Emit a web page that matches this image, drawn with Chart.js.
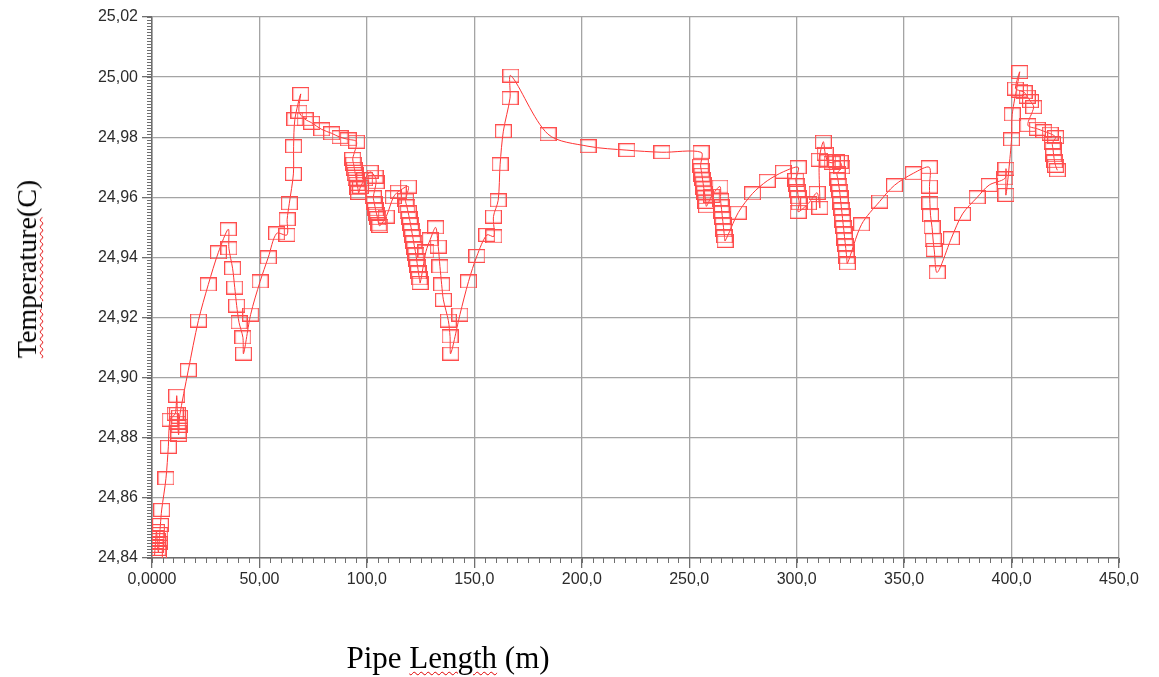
<!DOCTYPE html>
<html>
<head>
<meta charset="utf-8">
<script src="https://cdn.jsdelivr.net/npm/chart.js@4.4.1/dist/chart.umd.min.js"></script>
<style>
body{margin:0;background:#fff;}
#wrap{position:relative;width:1159px;height:677px;}
.ttl{position:absolute;font-family:'Liberation Serif','Times New Roman',serif;font-size:28px;color:#000;white-space:nowrap;}
.sq{text-decoration:underline wavy #e00000;text-decoration-thickness:1px;text-underline-offset:3px;}
#ytitle{left:27px;top:269px;transform:translate(-50%,-50%) rotate(-90deg);}
#xtitle{left:448px;top:658px;font-size:31px;transform:translate(-50%,-50%);}
</style>
</head>
<body>
<div id="wrap">
<canvas id="myChart" width="1159" height="677"></canvas>
<div class="ttl" id="ytitle"><span class="sq">Temperature</span>(C)</div>
<div class="ttl" id="xtitle">Pipe <span class="sq">Length</span> (m)</div>
</div>
<script>
// values, in the order the curve runs through them
const pipeLength = [
	1.2, 1.5, 1.8, 2.1, 2.4, 2.7, 3.0, 3.3, 3.6, 3.9, 4.5, 6.5, 7.6, 8.4, 10.8, 11.5,
	11.8, 12.0, 12.2, 12.4, 12.6, 12.8, 16.9, 21.6, 26.2, 30.9, 35.5, 35.8, 37.5, 38.5,
	39.4, 40.5, 42.3, 42.6, 45.9, 50.3, 54.1, 58.0, 62.8, 62.9, 63.9, 65.8, 65.9, 66.5,
	69.2, 68.4, 71.2, 74.3, 79.0, 83.6, 87.5, 91.3, 95.2, 93.4, 93.8, 94.2, 94.6, 95.0,
	95.4, 95.8, 96.2, 97.0, 99.0, 101.5, 103.8, 104.3, 103.0, 103.5, 104.0, 104.5, 105.0,
	105.5, 106.0, 109.0, 112.3, 114.6, 119.3, 118.0, 118.6, 119.2, 119.8, 120.3, 120.8,
	121.3, 121.8, 122.3, 122.8, 123.2, 123.6, 124.0, 124.4, 124.8, 127.5, 129.5, 132.0,
	133.2, 134.0, 134.8, 135.6, 137.9, 138.7, 139.0, 143.3, 147.3, 151.2, 155.8, 159.1,
	158.9, 161.1, 162.0, 163.5, 166.6, 167.0, 184.3, 202.9, 221.0, 237.3, 255.5, 255.3,
	255.6, 255.9, 256.2, 256.5, 256.8, 257.1, 257.4, 257.7, 258.0, 260.5, 264.3, 264.6,
	264.9, 265.2, 265.5, 265.8, 266.1, 266.4, 266.7, 272.8, 279.5, 286.3, 293.8, 300.7,
	299.6, 300.0, 300.4, 300.8, 301.2, 300.7, 305.5, 309.5, 310.8, 310.5, 312.4, 313.3,
	314.5, 316.5, 318.5, 320.2, 321.0, 318.8, 319.2, 319.6, 320.0, 320.3, 320.6, 320.9,
	321.2, 321.5, 321.8, 322.1, 322.4, 322.7, 323.0, 323.3, 323.6, 330.2, 338.6, 345.5,
	354.3, 361.7, 361.8, 362.0, 362.3, 363.0, 363.5, 364.0, 365.4, 372.0, 377.2, 384.0,
	389.6, 396.9, 397.4, 397.4, 400.0, 400.3, 403.8, 401.8, 403.8, 405.8, 407.3, 408.8,
	410.3, 407.6, 412.0, 415.0, 418.0, 420.5, 419.0, 419.3, 419.6, 420.0, 420.5, 421.3
];
const temperature = [
	24.841, 24.844, 24.847, 24.849, 24.846, 24.843, 24.842, 24.845, 24.848, 24.851, 24.856, 24.8665, 24.877, 24.886, 24.888, 24.894,
	24.888, 24.885, 24.882, 24.881, 24.884, 24.887, 24.9025, 24.919, 24.931, 24.9417, 24.9494, 24.943, 24.9364, 24.930,
	24.924, 24.9184, 24.9134, 24.908, 24.921, 24.932, 24.940, 24.948, 24.9475, 24.9527, 24.958, 24.9678, 24.977, 24.986,
	24.9944, 24.9885, 24.986, 24.9848, 24.9826, 24.9813, 24.980, 24.9793, 24.9785, 24.9728, 24.9712, 24.9695, 24.9678, 24.9662,
	24.9645, 24.963, 24.9615, 24.9635, 24.966, 24.9685, 24.9669, 24.965, 24.960, 24.958, 24.956, 24.9545, 24.953,
	24.951, 24.9505, 24.9536, 24.960, 24.9619, 24.9636, 24.959, 24.957, 24.955, 24.953, 24.951, 24.949,
	24.947, 24.945, 24.943, 24.941, 24.939, 24.937, 24.935, 24.933, 24.9315, 24.942, 24.946, 24.950,
	24.9436, 24.937, 24.931, 24.9259, 24.919, 24.9137, 24.908, 24.921, 24.932, 24.9405, 24.9475, 24.947,
	24.9536, 24.959, 24.971, 24.982, 24.993, 25.0005, 24.981, 24.977, 24.9757, 24.975, 24.975, 24.9705,
	24.969, 24.9675, 24.966, 24.9645, 24.963, 24.9615, 24.960, 24.9585, 24.957, 24.9605, 24.9636, 24.959,
	24.957, 24.955, 24.953, 24.951, 24.949, 24.947, 24.9455, 24.9549, 24.9613, 24.9655, 24.9685, 24.970,
	24.9658, 24.964, 24.962, 24.960, 24.958, 24.9552, 24.958, 24.9615, 24.9565, 24.9725, 24.9785, 24.9745,
	24.972, 24.9715, 24.972, 24.9718, 24.970, 24.968, 24.966, 24.964, 24.962, 24.960, 24.958, 24.956,
	24.954, 24.952, 24.950, 24.948, 24.946, 24.944, 24.942, 24.940, 24.938, 24.951, 24.9586, 24.964,
	24.968, 24.970, 24.9636, 24.958, 24.954, 24.950, 24.9458, 24.9425, 24.935, 24.9464, 24.9545, 24.960,
	24.9641, 24.9663, 24.9695, 24.9608, 24.9793, 24.9876, 25.0017, 24.9962, 24.9955, 24.995, 24.9935, 24.992,
	24.990, 24.984, 24.9828, 24.982, 24.9812, 24.980, 24.978, 24.976, 24.974, 24.972, 24.9705, 24.969
];
const xTickLabels = ['0,0000', '50,00', '100,0', '150,0', '200,0', '250,0', '300,0', '350,0', '400,0', '450,0'];
const yTickLabels = ['24,84', '24,86', '24,88', '24,90', '24,92', '24,94', '24,96', '24,98', '25,00', '25,02'];

const axisColor = '#6e6e6e';
const gridColor = '#a4a4a4';

function isMajorX(v){ return Math.round(v) % 50 === 0; }
function isMajorY(v){ return (Math.round(v * 1000) - 24840) % 20 === 0; }

// open square marker, a bit wider than tall like the original
let marker = document.createElement('canvas');
marker.width = 17;
marker.height = 14;
let mctx = marker.getContext('2d');
mctx.strokeStyle = '#ff4d4d';
mctx.lineWidth = 1.2;
mctx.strokeRect(0.6, 0.6, 15.8, 12.8);

// short ticks for every minor step
const minorTicks = {
	id: 'minorTicks',
	afterDraw(chart){
		let ctx = chart.ctx, xs = chart.scales.x, ys = chart.scales.y;
		ctx.save();
		ctx.strokeStyle = axisColor;
		ctx.lineWidth = 1;
		ctx.beginPath();
		xs.ticks.forEach(t => {
			let px = Math.round(xs.getPixelForValue(t.value)) + 0.5;
			ctx.moveTo(px, xs.top);
			ctx.lineTo(px, xs.top + 5);
		});
		ys.ticks.forEach(t => {
			let py = Math.round(ys.getPixelForValue(t.value)) + 0.5;
			ctx.moveTo(ys.right - 5, py);
			ctx.lineTo(ys.right, py);
		});
		ctx.stroke();
		ctx.restore();
	}
};

new Chart(document.getElementById('myChart').getContext('2d'), {
	type: 'line',
	data: {
		datasets: [{
			data: pipeLength.map((x, i) => ({x: x, y: temperature[i]})),
			borderColor: '#ff3333',
			borderWidth: 1,
			tension: 0.3,
			fill: false,
			pointStyle: marker,
			pointRadius: 8,
			pointHoverRadius: 8
		}]
	},
	options: {
		responsive: false,
		animation: false,
		events: [],
		layout: {padding: {top: 17, right: 40, left: 0, bottom: 0}},
		plugins: {legend: {display: false}, tooltip: {enabled: false}},
		scales: {
			x: {
				type: 'linear',
				min: 0,
				max: 450,
				afterFit(scale){ scale.height = 119; },
				border: {color: axisColor, width: 1.5},
				grid: {
					color: ctx => isMajorX(ctx.tick.value) ? gridColor : 'rgba(0,0,0,0)',
					lineWidth: 1.3,
					tickLength: 10,
					tickColor: ctx => isMajorX(ctx.tick.value) ? axisColor : 'rgba(0,0,0,0)'
				},
				ticks: {
					stepSize: 5,
					autoSkip: false,
					maxRotation: 0,
					padding: 2,
					color: '#2b2b2b',
					font: {family: "'Liberation Sans', Arial, sans-serif", size: 16},
					callback: v => isMajorX(v) ? xTickLabels[Math.round(v) / 50] : ''
				}
			},
			y: {
				min: 24.84,
				max: 25.02,
				afterFit(scale){ scale.width = 152; },
				border: {color: axisColor, width: 1.5},
				grid: {
					color: ctx => isMajorY(ctx.tick.value) ? gridColor : 'rgba(0,0,0,0)',
					lineWidth: 1.3,
					tickLength: 10,
					tickColor: ctx => isMajorY(ctx.tick.value) ? axisColor : 'rgba(0,0,0,0)'
				},
				ticks: {
					stepSize: 0.001,
					autoSkip: false,
					padding: 4,
					color: '#2b2b2b',
					font: {family: "'Liberation Sans', Arial, sans-serif", size: 16},
					callback: v => isMajorY(v) ? yTickLabels[(Math.round(v * 1000) - 24840) / 20] : ''
				}
			}
		}
	},
	plugins: [minorTicks]
});
</script>
</body>
</html>
